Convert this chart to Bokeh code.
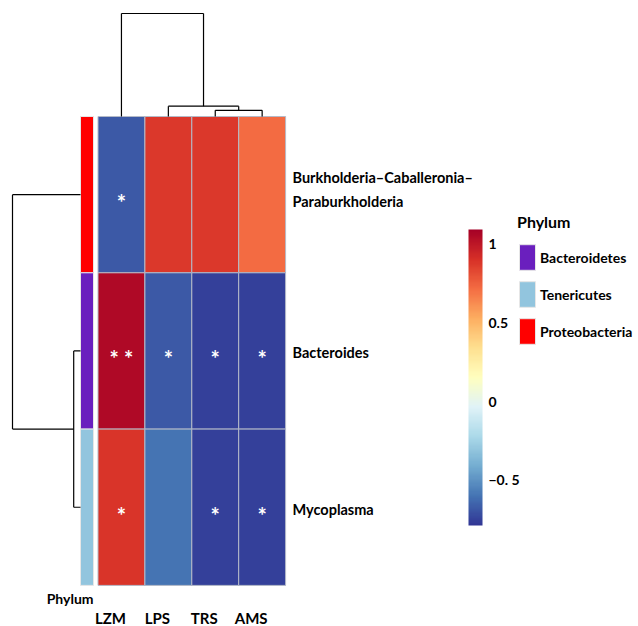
from bokeh.plotting import figure
from bokeh.models import (Range1d, LinearColorMapper, ColorBar, FixedTicker,
                          Legend, LegendItem, ColumnDataSource)
from bokeh.core.properties import value
from bokeh.embed import file_html
from bokeh.resources import INLINE
from bokeh.palettes import RdYlBu11

# ---------------- data ----------------
genera = ["Burkholderia–Caballeronia–\nParaburkholderia", "Bacteroides", "Mycoplasma"]
treatments = ["LZM", "LPS", "TRS", "AMS"]
corr_burkholderia = [-0.68, 0.87, 0.87, 0.72]
corr_bacteroides = [1.05, -0.68, -0.76, -0.76]
corr_mycoplasma = [0.89, -0.60, -0.76, -0.76]
stars_burkholderia = ["*", "", "", ""]
stars_bacteroides = ["**", "*", "*", "*"]
stars_mycoplasma = ["*", "", "*", "*"]
phylum_of_genus = ["Proteobacteria", "Bacteroidetes", "Tenericutes"]
phylum_names = ["Bacteroidetes", "Tenericutes", "Proteobacteria"]
phylum_colors = ["#6A1FBE", "#92C5DE", "#FF0000"]
# hierarchical clustering merges: (child a, child b, height)
col_merges = [(2, 3, 0.06), (1, 4, 0.10), (0, 5, 1.00)]
row_merges = [(1, 2, 0.10), (0, 3, 1.00)]
cbar_low, cbar_high = -0.79, 1.09
cbar_ticks = [-0.5, 0, 0.5, 1]
cbar_tick_labels = ["−0. 5", "0", "0.5", "1"]

corr_rows = [corr_burkholderia, corr_bacteroides, corr_mycoplasma]
star_rows = [stars_burkholderia, stars_bacteroides, stars_mycoplasma]

# ---------------- layout (pixels) ----------------
W, H = 638, 626
PAGE = 0
HM_LEFT, HM_TOP = 97.5, 116.0     # page coords of heatmap top-left
CW, RH = 46.9, 156.3              # cell width / height in px
TOP_DEND_PX = 103
LEFT_DEND_PX = 68
FONT = "Lato"

def X(page_x):
    return (page_x - HM_LEFT) / CW

def Y(page_y):
    return (page_y - HM_TOP) / RH

x_range = Range1d(X(PAGE), X(PAGE + W))
y_range = Range1d(Y(PAGE + H), Y(PAGE))   # flipped: rows go downward

p = figure(width=W, height=H, x_range=x_range, y_range=y_range,
           output_backend="svg", toolbar_location=None,
           x_axis_location=None, y_axis_location=None,
           min_border=0, outline_line_color=None)
p.xgrid.visible = False
p.ygrid.visible = False

# ---------------- palette / mapper ----------------
def hex2rgb(h):
    h = h.lstrip("#")
    return [int(h[i:i + 2], 16) for i in (0, 2, 4)]

base = [hex2rgb(c) for c in RdYlBu11]   # blue (low) -> red (high)
if base[0][0] > base[0][2]:
    base = base[::-1]
palette = []
N = 256
for k in range(N):
    t = k / (N - 1) * (len(base) - 1)
    i = min(int(t), len(base) - 2)
    f = t - i
    c = [round(base[i][j] + (base[i + 1][j] - base[i][j]) * f) for j in range(3)]
    palette.append("#%02x%02x%02x" % tuple(c))

mapper = LinearColorMapper(palette=palette, low=cbar_low, high=cbar_high)

# ---------------- heatmap ----------------
xs, ys, vals, stars = [], [], [], []
for r, row in enumerate(corr_rows):
    for c, v in enumerate(row):
        xs.append(c + 0.5)
        ys.append(r + 0.5)
        vals.append(v)
        stars.append(" ".join(star_rows[r][c]))
src = ColumnDataSource(dict(x=xs, y=ys, val=vals, star=stars))
p.rect(x="x", y="y", width=1, height=1, source=src,
       fill_color={"field": "val", "transform": mapper},
       line_color="#B4BAC8", line_width=1)
p.text(x="x", y="y", text="star", source=src, text_color="white",
       text_align="center", text_baseline="middle", y_offset=8,
       text_font=value(FONT), text_font_style="bold", text_font_size="22px")

# ---------------- phylum annotation bar ----------------
ph_color = {n: c for n, c in zip(phylum_names, phylum_colors)}
ph_src = ColumnDataSource(dict(
    top=[r for r in range(len(genera))],
    bottom=[r + 1 for r in range(len(genera))],
    color=[ph_color[g] for g in phylum_of_genus]))
bar_l, bar_r = X(80), X(93)
r_ph = p.quad(left=bar_l, right=bar_r, top="top", bottom="bottom", source=ph_src,
              fill_color="color", line_color="#E6E6E6", line_width=1)

p.text(x=[bar_r], y=[Y(598)], text=["Phylum"], text_align="right",
       text_baseline="middle", text_font=value(FONT), text_font_style="bold",
       text_font_size="14px", text_color="black")

# ---------------- dendrograms ----------------
def dendro(merges, n):
    pos = {i: i + 0.5 for i in range(n)}
    hgt = {i: 0.0 for i in range(n)}
    segs = []
    for k, (a, b, h) in enumerate(merges):
        segs.append(([pos[a], pos[a]], [hgt[a], h]))
        segs.append(([pos[b], pos[b]], [hgt[b], h]))
        segs.append(([pos[a], pos[b]], [h, h]))
        pos[n + k] = (pos[a] + pos[b]) / 2
        hgt[n + k] = h
    return segs

cmax = max(m[2] for m in col_merges)
top_segs = dendro(col_merges, len(treatments))
p.multi_line(xs=[s[0] for s in top_segs],
             ys=[[-h / cmax * TOP_DEND_PX / RH for h in s[1]] for s in top_segs],
             line_color="black", line_width=1.2)

rmax = max(m[2] for m in row_merges)
left_segs = dendro(row_merges, len(genera))
p.multi_line(xs=[[bar_l - h / rmax * LEFT_DEND_PX / CW for h in s[1]] for s in left_segs],
             ys=[s[0] for s in left_segs],
             line_color="black", line_width=1.2)

# ---------------- labels ----------------
lab_src = ColumnDataSource(dict(
    x=[X(292)] * len(genera), y=[r + 0.5 for r in range(len(genera))],
    text=genera, dy=[-5 if "\n" in g else 2 for g in genera]))
p.text(x="x", y="y", text="text", source=lab_src, y_offset="dy",
       text_align="left", text_baseline="middle",
       text_font=value(FONT), text_font_style="bold", text_font_size="14.5px",
       text_line_height=1.45, text_color="black")
p.text(x=[c + 0.5 for c in range(len(treatments))], y=[Y(617)] * len(treatments),
       text=treatments, text_align="center", text_baseline="middle", x_offset=-11,
       text_font=value(FONT), text_font_style="bold", text_font_size="15px",
       text_color="black")

# ---------------- colour bar ----------------
cb = ColorBar(color_mapper=mapper, width=14, height=296,
              location=(468 - PAGE, H - (525 - PAGE)),
              ticker=FixedTicker(ticks=cbar_ticks),
              major_label_overrides={t: l for t, l in zip(cbar_ticks, cbar_tick_labels)},
              major_label_text_font=FONT, major_label_text_font_style="bold",
              major_label_text_font_size="14px", major_label_text_color="black",
              major_tick_line_color=None, minor_tick_line_color=None,
              bar_line_color=None, border_line_color=None,
              background_fill_alpha=0, padding=0, label_standoff=6)
p.add_layout(cb, "center")

# ---------------- legend ----------------
items = [LegendItem(label=n, renderers=[r_ph], index=phylum_of_genus.index(n))
         for n in phylum_names]
leg = Legend(items=items, title="Phylum", location=(517 - PAGE, H - (347 - PAGE)),
             title_text_font=FONT, title_text_font_style="bold",
             title_text_font_size="16px", title_text_color="black", title_standoff=10,
             label_text_font=FONT, label_text_font_style="bold",
             label_text_font_size="14px", label_text_color="black", label_standoff=3,
             glyph_width=20, glyph_height=32, label_height=32, spacing=5,
             padding=0, margin=0, border_line_color=None,
             background_fill_alpha=0)
p.add_layout(leg, "center")

open("out.html", "w").write(file_html(p, INLINE))
